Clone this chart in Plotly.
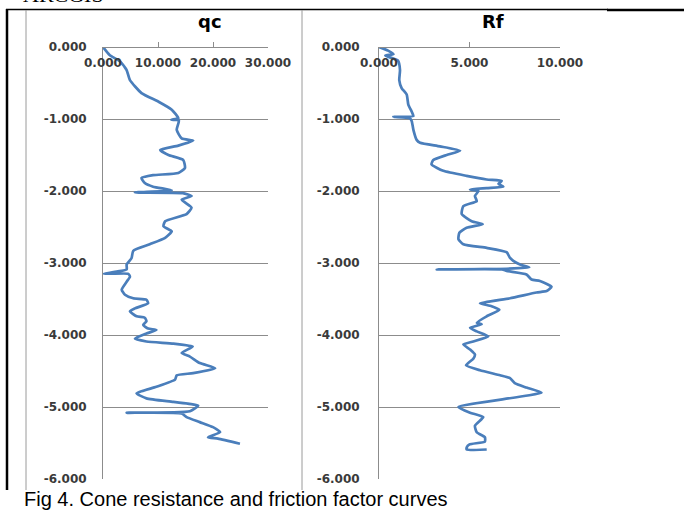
import plotly.graph_objects as go

W, H = 684, 510

# ---- data ----
qc_values = [0, 1.2, 3.1, 4.3, 4.9, 7.0, 10.1, 12.5, 13.7, 12.4, 13.8, 13.4, 14.3, 16.4, 13.7, 10.4,
             11.9, 14.6, 14.9, 13.7, 9.1, 7.0, 7.6, 9.1, 12.5, 5.8, 14.5, 16.1, 14.3, 16.1, 15.2,
             11.3, 11.0, 12.5, 11.3, 8.5, 5.5, 5.2, 4.3, 4.3, 0.1, 4.6, 4.9, 4.3, 3.4, 4.0, 5.5,
             7.9, 8.2, 5.8, 4.9, 6.1, 7.6, 7.9, 7.3, 8.2, 9.7, 7.9, 5.8, 7.9, 12.8, 16.3, 14.3,
             15.8, 17.6, 20.4, 16.4, 13.4, 13.1, 9.7, 6.1, 7.9, 12.8, 17.3, 15.8, 4.3, 14.3, 15.2,
             17.6, 20.0, 21.3, 19.1, 20.9, 24.9]
qc_depth = [0, -0.11, -0.20, -0.32, -0.46, -0.64, -0.76, -0.87, -0.99, -1.01, -1.02, -1.15, -1.27,
            -1.30, -1.37, -1.43, -1.50, -1.57, -1.68, -1.75, -1.78, -1.82, -1.89, -1.94, -1.99,
            -2.02, -2.03, -2.07, -2.12, -2.23, -2.32, -2.42, -2.49, -2.56, -2.65, -2.74, -2.83,
            -2.93, -3.02, -3.09, -3.15, -3.15, -3.19, -3.26, -3.37, -3.44, -3.49, -3.51, -3.56,
            -3.63, -3.67, -3.74, -3.76, -3.81, -3.86, -3.91, -3.93, -3.98, -4.05, -4.09, -4.12,
            -4.16, -4.25, -4.30, -4.39, -4.46, -4.53, -4.56, -4.62, -4.72, -4.81, -4.88, -4.93,
            -4.98, -5.06, -5.08, -5.09, -5.14, -5.21, -5.28, -5.35, -5.42, -5.44, -5.51]

rf_values = [0, 0.5, 0.8, 0.35, 1.05, 1.16, 1.12, 1.25, 1.53, 1.62, 1.81, 1.9, 0.79, 1.71, 1.81,
             1.9, 2.08, 2.27, 3.37, 4.48, 3.74, 3.0, 2.9, 3.55, 4.84, 5.95, 6.78, 6.6, 6.87, 5.95,
             5.03, 5.49, 5.3, 5.4, 4.66, 4.57, 5.12, 5.73, 4.84, 4.44, 4.39, 4.66, 5.95, 7.05,
             7.24, 7.42, 7.79, 8.3, 7.05, 3.19, 6.8, 7.05, 8.15, 8.43, 8.89, 9.53, 9.26, 8.7,
             7.24, 5.58, 6.22, 6.65, 5.95, 5.4, 5.67, 5.03, 5.4, 6.04, 5.21, 4.66, 5.03, 5.3,
             5.21, 4.81, 5.58, 6.69, 7.24, 7.5, 8.15, 8.98, 4.39, 5.03, 5.76, 5.3, 5.4, 5.85,
             5.85, 5.0, 4.85, 4.85, 5.95]
rf_depth = [0, -0.05, -0.10, -0.12, -0.19, -0.32, -0.46, -0.57, -0.66, -0.80, -0.90, -0.96, -0.97,
            -0.99, -1.03, -1.15, -1.29, -1.33, -1.38, -1.44, -1.50, -1.57, -1.63, -1.72, -1.79,
            -1.84, -1.86, -1.90, -1.94, -1.96, -1.98, -2.00, -2.07, -2.14, -2.21, -2.32, -2.42,
            -2.46, -2.51, -2.58, -2.67, -2.74, -2.79, -2.85, -2.93, -2.97, -3.02, -3.06, -3.08,
            -3.09, -3.09, -3.11, -3.16, -3.23, -3.25, -3.33, -3.39, -3.41, -3.49, -3.56, -3.60,
            -3.65, -3.74, -3.83, -3.85, -3.90, -3.95, -4.02, -4.09, -4.13, -4.20, -4.27, -4.33,
            -4.42, -4.49, -4.56, -4.60, -4.67, -4.73, -4.80, -5.00, -5.08, -5.14, -5.26, -5.35,
            -5.42, -5.48, -5.52, -5.56, -5.59, -5.59]

depth_tick_vals = [0, -1, -2, -3, -4, -5, -6]
depth_tick_text = ["0.000", "-1.000", "-2.000", "-3.000", "-4.000", "-5.000", "-6.000"]
qc_tick_vals = [0, 10, 20, 30]
qc_tick_text = ["0.000", "10.000", "20.000", "30.000"]
rf_tick_vals = [0, 5, 10]
rf_tick_text = ["0.000", "5.000", "10.000"]
titles = ["qc", "Rf"]
caption = "Fig 4. Cone resistance and friction factor curves"
header = "ARCGIS"

# ---- styling ----
LINE = "#4a7ebb"
GRID = "#8c8c8c"
TICKFONT = dict(family="DejaVu Sans", size=12, color="#3a3a3a", weight="bold")


def px_x(p):
    return p / W


def px_y(p):
    return 1 - p / H


fig = go.Figure()
fig.add_trace(go.Scatter(x=qc_values, y=qc_depth, mode="lines",
                         line=dict(color=LINE, width=2.7, shape="spline", smoothing=0.5),
                         xaxis="x", yaxis="y", showlegend=False))
fig.add_trace(go.Scatter(x=rf_values, y=rf_depth, mode="lines",
                         line=dict(color=LINE, width=2.7, shape="spline", smoothing=0.5),
                         xaxis="x2", yaxis="y2", showlegend=False))

ydom = [px_y(479), px_y(47)]


def xax(dom, rng, vals, text):
    return dict(domain=dom, range=rng, side="bottom", anchor="free", position=ydom[1],
                tickvals=vals, ticktext=text, ticks="inside", ticklen=5,
                tickcolor=GRID, showline=True, linecolor=GRID, linewidth=1,
                showgrid=False, zeroline=False, automargin=False,
                ticklabelstandoff=5, tickfont=TICKFONT, fixedrange=True)


def yax(rng, anchor, standoff):
    return dict(domain=ydom, range=rng, anchor=anchor,
                tickvals=depth_tick_vals, ticktext=depth_tick_text,
                ticks="", showline=True, linecolor=GRID, linewidth=1,
                showgrid=True, gridcolor=GRID, gridwidth=1, zeroline=False,
                automargin=False,
                tickfont=TICKFONT, ticklabelstandoff=standoff, fixedrange=True)


fig.update_layout(
    width=W, height=H,
    margin=dict(l=0, r=0, t=0, b=0, pad=0),
    paper_bgcolor="white", plot_bgcolor="white",
    xaxis=xax([px_x(103), px_x(268)], [0, 30], qc_tick_vals, qc_tick_text),
    yaxis=yax([-6, 0], "x", 13),
    xaxis2=xax([px_x(379), px_x(560)], [0, 10], rf_tick_vals, rf_tick_text),
    yaxis2=yax([-6, 0], "x2", 16),
)

shapes = [
    dict(type="line", xref="paper", yref="paper", x0=px_x(6), x1=px_x(608),
         y0=px_y(9.5), y1=px_y(9.5), line=dict(color="black", width=1.3)),
    dict(type="line", xref="paper", yref="paper", x0=px_x(607), x1=px_x(684),
         y0=px_y(10), y1=px_y(10), line=dict(color="black", width=2.5)),
    dict(type="line", xref="paper", yref="paper", x0=px_x(7), x1=px_x(7),
         y0=px_y(9), y1=px_y(490), line=dict(color="black", width=2.5)),
    dict(type="line", xref="paper", yref="paper", x0=px_x(26), x1=px_x(26),
         y0=px_y(10), y1=px_y(490), line=dict(color="#9a9a9a", width=1)),
    dict(type="line", xref="paper", yref="paper", x0=px_x(302), x1=px_x(302),
         y0=px_y(10), y1=px_y(490), line=dict(color="#9a9a9a", width=1)),
]
fig.update_layout(shapes=shapes)

annotations = [
    dict(text="<b>%s</b>" % titles[0], x=px_x(210), y=px_y(22), xref="paper", yref="paper",
         showarrow=False, xanchor="center", yanchor="middle",
         font=dict(family="DejaVu Sans", size=18, color="black")),
    dict(text="<b>%s</b>" % titles[1], x=px_x(493), y=px_y(22), xref="paper", yref="paper",
         showarrow=False, xanchor="center", yanchor="middle",
         font=dict(family="DejaVu Sans", size=18, color="black")),
    dict(text=caption, x=px_x(22), y=px_y(498.5), xref="paper", yref="paper",
         showarrow=False, xanchor="left", yanchor="middle",
         font=dict(family="Liberation Sans", size=20, color="black")),
    dict(text=header, x=px_x(21), y=px_y(9), xref="paper", yref="paper",
         showarrow=False, xanchor="left", yanchor="bottom",
         font=dict(family="Liberation Serif", size=22, color="black")),
]
fig.update_layout(annotations=annotations)

fig.write_html("out.html", config={"displayModeBar": False},
               post_script="document.body.style.margin='0px';document.body.style.overflow='hidden';")
